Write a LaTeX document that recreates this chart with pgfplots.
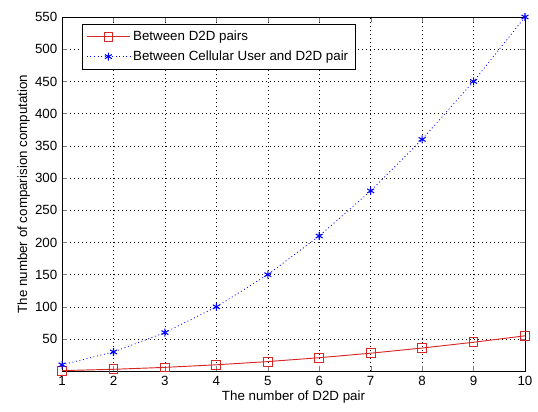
\documentclass[border=0pt]{standalone}
\usepackage{fontspec}
\setmainfont{Liberation Sans}
\usepackage{pgfplots}
\pgfplotsset{compat=1.18}
\definecolor{matred}{RGB}{215,40,40}
\definecolor{matblue}{RGB}{0,0,255}
\begin{document}
\begin{tikzpicture}
\begin{axis}[
  scale only axis,
  width=347pt,height=265.5pt,
  xmin=1,xmax=10,ymin=0,ymax=550,
  xtick={1,...,10},
  ytick={50,100,...,550},
  tick align=inside,
  major tick length=4pt,
  grid=major,
  grid style={black,dash pattern=on 0.6pt off 2.4pt,line width=0.4pt},
  axis line style={line width=0.6pt},
  /pgf/number format/assume math mode=true,
  tick label style={font=\fontsize{10}{12}\selectfont},
  label style={font=\fontsize{10}{12}\selectfont},
  xlabel={The number of D2D pair},
  ylabel={The number of comparision computation},
  xlabel style={yshift=3pt},
  ylabel style={yshift=-3pt},
  legend cell align=left,
  legend style={font=\fontsize{10}{12}\selectfont,at={(0.043,0.98)},anchor=north west,
    draw=black,line width=0.5pt,inner sep=3pt,row sep=2pt},
  legend image code/.code={\draw[mark repeat=2,mark phase=2,#1]
    plot coordinates {(0cm,0cm) (0.57cm,0cm) (1.14cm,0cm)};},
]
\addplot[matred,line width=0.7pt,mark=square,mark size=3.3pt,mark options={solid}]
  coordinates {(1,1)(2,3)(3,6)(4,10)(5,15)(6,21)(7,28)(8,36)(9,45)(10,55)};
\addlegendentry{Between D2D pairs}
\addplot[matblue,dash pattern=on 0.7pt off 2pt,line width=0.6pt,mark=asterisk,mark size=3pt,mark options={solid,line width=0.8pt}]
  coordinates {(1,10)(2,30)(3,60)(4,100)(5,150)(6,210)(7,280)(8,360)(9,450)(10,550)};
\addlegendentry{Between Cellular User and D2D pair}
\end{axis}
\path (-46.5pt,-30pt) rectangle (356.75pt,278.25pt);
\end{tikzpicture}
\end{document}
